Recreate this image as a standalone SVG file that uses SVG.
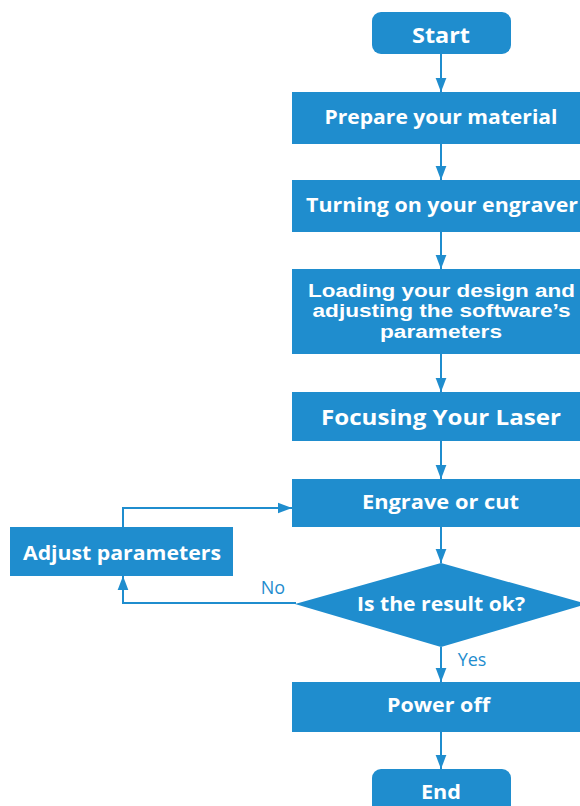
<svg xmlns="http://www.w3.org/2000/svg" width="580" height="806" viewBox="0 0 580 806">
<style>
.n{fill:#1f8dce}
.t{font-family:"Open Sans","Liberation Sans",sans-serif;font-weight:700;fill:#fff;text-anchor:middle}
.m{font-family:"Liberation Sans",Arial,sans-serif;font-weight:700;fill:#fff;text-anchor:middle;font-size:17.5px}
.l{font-family:"Open Sans","Liberation Sans",sans-serif;font-weight:400;fill:#1f8dce;font-size:18px}
.c{fill:none;stroke:#1f8dce;stroke-width:2}
</style>
<defs>
<marker id="ah" markerUnits="userSpaceOnUse" markerWidth="14" markerHeight="18" refX="17" refY="6.5" orient="auto" viewBox="0 0 17 13">
<path d="M0,0 L17,6.5 L0,13 Z" fill="#1f8dce"/>
</marker>
</defs>
<rect width="580" height="806" fill="#fff"/>
<g id="connectors">
<line class="c" x1="441" y1="54" x2="441" y2="92" marker-end="url(#ah)"/>
<line class="c" x1="441" y1="144" x2="441" y2="180" marker-end="url(#ah)"/>
<line class="c" x1="441" y1="232" x2="441" y2="269" marker-end="url(#ah)"/>
<line class="c" x1="441" y1="354" x2="441" y2="392" marker-end="url(#ah)"/>
<line class="c" x1="441" y1="441" x2="441" y2="479" marker-end="url(#ah)"/>
<line class="c" x1="441" y1="527" x2="441" y2="563" marker-end="url(#ah)"/>
<line class="c" x1="441" y1="647" x2="441" y2="682" marker-end="url(#ah)"/>
<line class="c" x1="441" y1="732" x2="441" y2="769" marker-end="url(#ah)"/>
<polyline class="c" points="123,527 123,508 292,508" marker-end="url(#ah)"/>
<polyline class="c" points="296,603 123,603 123,576" marker-end="url(#ah)"/>
<text class="l" x="273" y="594" text-anchor="middle">No</text>
<text class="l" x="472" y="666" text-anchor="middle">Yes</text>
</g>
<g id="start"><rect class="n" x="372" y="12" width="139" height="42" rx="9"/><text class="t" x="441" y="43" font-size="21" textLength="58" lengthAdjust="spacingAndGlyphs">Start</text></g>
<g id="prepare"><rect class="n" x="292" y="92" width="288" height="52"/><text class="t" x="441" y="124" font-size="19" textLength="233" lengthAdjust="spacingAndGlyphs">Prepare your material</text></g>
<g id="turning"><rect class="n" x="292" y="180" width="288" height="52"/><text class="t" x="442" y="212" font-size="19" textLength="272" lengthAdjust="spacingAndGlyphs">Turning on your engraver</text></g>
<g id="loading"><rect class="n" x="292" y="269" width="288" height="85"/>
<text class="m" x="441.5" y="296.5" textLength="267" lengthAdjust="spacingAndGlyphs">Loading your design and</text>
<text class="m" x="441.5" y="317" textLength="258" lengthAdjust="spacingAndGlyphs">adjusting the software’s</text>
<text class="m" x="441" y="337.5" textLength="122" lengthAdjust="spacingAndGlyphs">parameters</text></g>
<g id="focusing"><rect class="n" x="292" y="392" width="288" height="49"/><text class="t" x="441" y="424.5" font-size="21" textLength="240" lengthAdjust="spacingAndGlyphs">Focusing Your Laser</text></g>
<g id="engrave"><rect class="n" x="292" y="479" width="288" height="48"/><text class="t" x="440.5" y="509" font-size="19" textLength="157" lengthAdjust="spacingAndGlyphs">Engrave or cut</text></g>
<g id="adjust"><rect class="n" x="10" y="527" width="223" height="49"/><text class="t" x="122" y="560" font-size="19" textLength="198" lengthAdjust="spacingAndGlyphs">Adjust parameters</text></g>
<g id="decision"><polygon class="n" points="441,563 587,604 441,647 295,604"/><text class="t" x="441" y="611" font-size="19" textLength="168" lengthAdjust="spacingAndGlyphs">Is the result ok?</text></g>
<g id="poweroff"><rect class="n" x="292" y="682" width="288" height="50"/><text class="t" x="438.5" y="712" font-size="19" textLength="103" lengthAdjust="spacingAndGlyphs">Power off</text></g>
<g id="end"><rect class="n" x="372" y="769" width="139" height="50" rx="9"/><text class="t" x="441" y="799" font-size="20" textLength="40" lengthAdjust="spacingAndGlyphs">End</text></g>
</svg>
